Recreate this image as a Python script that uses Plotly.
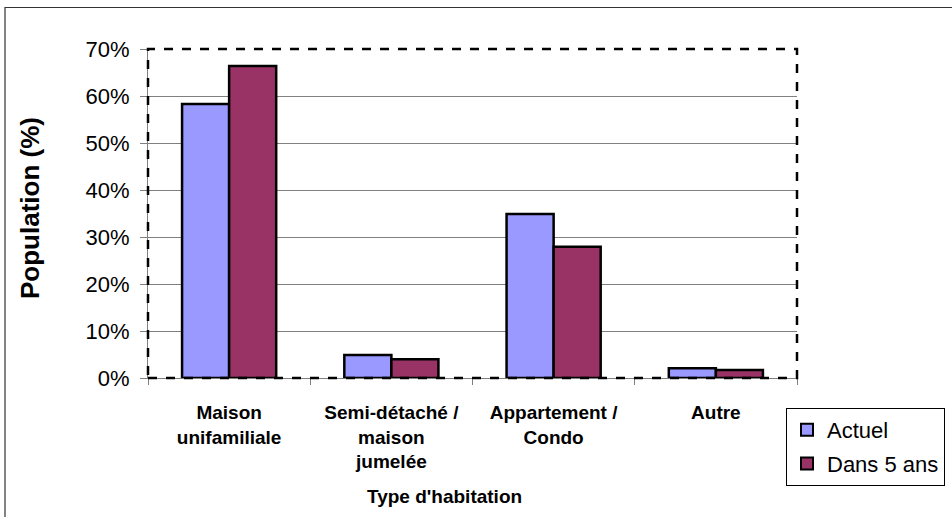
import plotly.graph_objects as go

categories = ["Maison<br>unifamiliale", "Semi-détaché /<br>maison<br>jumelée", "Appartement /<br>Condo", "Autre"]
actuel = [0.583, 0.049, 0.349, 0.021]
dans5 = [0.664, 0.040, 0.279, 0.017]
series_names = ["Actuel", "Dans 5 ans"]
y_ticks = [0, 0.1, 0.2, 0.3, 0.4, 0.5, 0.6, 0.7]

W, H = 952, 517
L, R, T, B = 148, 797, 49, 378
pw, ph = R - L, B - T

fig = go.Figure()
fig.add_bar(x=categories, y=actuel, name=series_names[0], legendgroup="a",
            marker=dict(color="#9999FF", line=dict(color="black", width=2.5)))
fig.add_bar(x=categories, y=dans5, name=series_names[1], legendgroup="b",
            marker=dict(color="#993366", line=dict(color="black", width=2.5)))

def px(x):
    return (x - L) / pw

def py(y):
    return (B - y) / ph

fig.update_layout(
    width=W, height=H,
    margin=dict(l=L, r=W - R, t=T, b=H - B, pad=0, autoexpand=False),
    paper_bgcolor="white", plot_bgcolor="white",
    bargap=0.42, bargroupgap=0,
    font=dict(family="Arial, Liberation Sans", color="black"),
    xaxis=dict(
        tickfont=dict(size=19, family="Arial, Liberation Sans"),
        ticks="outside", ticklen=6, tickcolor="#808080", tickson="boundaries",
        ticklabelstandoff=17,
        showline=True, linecolor="#808080", linewidth=1,
    ),
    yaxis=dict(
        range=[0, 0.7], tickvals=y_ticks, tickformat=".0%",
        tickfont=dict(size=22),
        ticks="outside", ticklen=7, tickcolor="#808080",
        ticklabelstandoff=6,
        showgrid=True, gridcolor="#808080", gridwidth=1,
        showline=True, linecolor="#808080", linewidth=1,
        zeroline=False,
    ),
    legend=dict(
        x=px(786), y=py(408), xanchor="left", yanchor="top",
        bordercolor="black", borderwidth=1, bgcolor="white",
        font=dict(size=22), tracegroupgap=2, itemsizing="constant",
        itemwidth=30,
    ),
    annotations=[
        dict(text="<b>Type d'habitation</b>", xref="paper", yref="paper",
             x=px(444), y=py(496), xanchor="center", yanchor="middle",
             showarrow=False, font=dict(size=19)),
        dict(text="<b>Population (%)</b>", xref="paper", yref="paper",
             x=px(30), y=py(208), xanchor="center", yanchor="middle",
             textangle=-90, showarrow=False, font=dict(size=26)),
    ],
    shapes=[
        dict(type="rect", xref="paper", yref="paper", x0=0, x1=1, y0=0, y1=1,
             line=dict(color="black", width=2.5, dash="dash"), layer="above"),
        dict(type="rect", xref="paper", yref="paper",
             x0=px(5), x1=px(960), y0=py(525), y1=py(7.5),
             line=dict(color="#333333", width=1.2), layer="above"),
    ],
)
fig.update_xaxes(ticktext=["<b>" + c.replace("<br>", "</b><br><b>") + "</b>" for c in categories],
                 tickvals=categories)

fig.write_html("out.html", config={"displayModeBar": False},
               post_script="document.body.style.margin='0';document.body.style.overflow='hidden';")
